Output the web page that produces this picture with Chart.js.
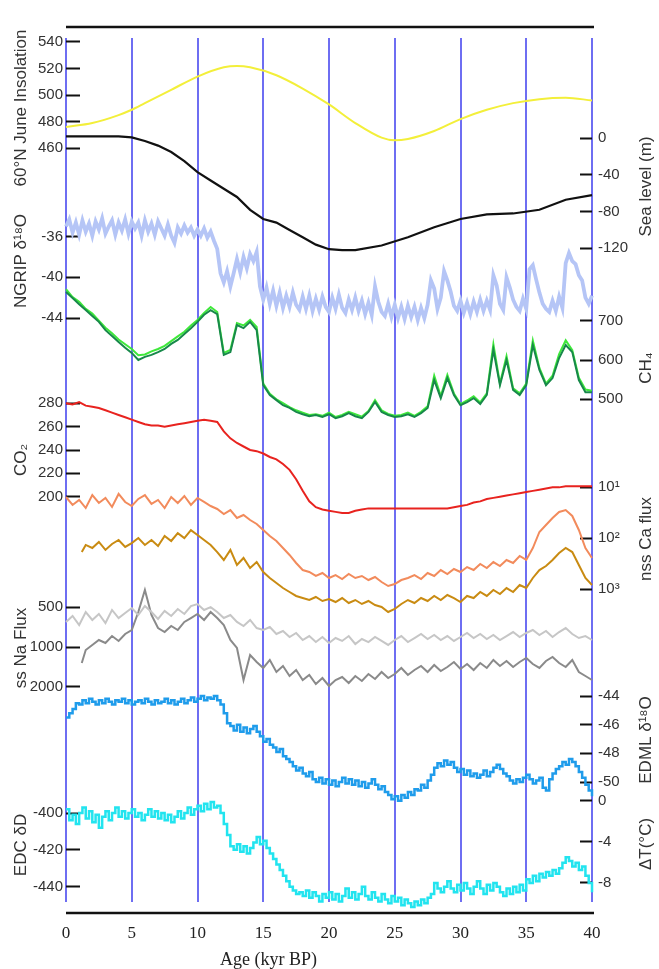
<!DOCTYPE html>
<html>
<head>
<meta charset="utf-8">
<title>Last 40 kyr climate records</title>
<script src="https://cdn.jsdelivr.net/npm/chart.js@4.4.1/dist/chart.umd.min.js"></script>
<style>
  html, body { margin: 0; padding: 0; background: #fff; }
  #wrap { width: 659px; height: 969px; }
</style>
</head>
<body>
<div id="wrap"><canvas id="climate" width="659" height="969"></canvas></div>
<script>
// ---- data (age in kyr BP) ----
const ageTicks = [0, 5, 10, 15, 20, 25, 30, 35, 40];

const ageQ = [0,0.25,0.5,0.75,1,1.25,1.5,1.75,2,2.25,2.5,2.75,3,3.25,3.5,3.75,4,4.25,4.5,4.75,5,5.25,5.5,5.75,6,6.25,6.5,6.75,7,7.25,7.5,7.75,8,8.25,8.5,8.75,9,9.25,9.5,9.75,10,10.25,10.5,10.75,11,11.25,11.5,11.75,12,12.25,12.5,12.75,13,13.25,13.5,13.75,14,14.25,14.5,14.75,15,15.25,15.5,15.75,16,16.25,16.5,16.75,17,17.25,17.5,17.75,18,18.25,18.5,18.75,19,19.25,19.5,19.75,20,20.25,20.5,20.75,21,21.25,21.5,21.75,22,22.25,22.5,22.75,23,23.25,23.5,23.75,24,24.25,24.5,24.75,25,25.25,25.5,25.75,26,26.25,26.5,26.75,27,27.25,27.5,27.75,28,28.25,28.5,28.75,29,29.25,29.5,29.75,30,30.25,30.5,30.75,31,31.25,31.5,31.75,32,32.25,32.5,32.75,33,33.25,33.5,33.75,34,34.25,34.5,34.75,35,35.25,35.5,35.75,36,36.25,36.5,36.75,37,37.25,37.5,37.75,38,38.25,38.5,38.75,39,39.25,39.5,39.75,40];
const ageH = [0,0.5,1,1.5,2,2.5,3,3.5,4,4.5,5,5.5,6,6.5,7,7.5,8,8.5,9,9.5,10,10.5,11,11.5,12,12.5,13,13.5,14,14.5,15,15.5,16,16.5,17,17.5,18,18.5,19,19.5,20,20.5,21,21.5,22,22.5,23,23.5,24,24.5,25,25.5,26,26.5,27,27.5,28,28.5,29,29.5,30,30.5,31,31.5,32,32.5,33,33.5,34,34.5,35,35.5,36,36.5,37,37.5,38,38.5,39,39.5,40];
const ageLate = [1.2,1.5,2,2.5,3,3.5,4,4.5,5,5.5,6,6.5,7,7.5,8,8.5,9,9.5,10,10.5,11,11.5,12,12.5,13,13.5,14,14.5,15,15.5,16,16.5,17,17.5,18,18.5,19,19.5,20,20.5,21,21.5,22,22.5,23,23.5,24,24.5,25,25.5,26,26.5,27,27.5,28,28.5,29,29.5,30,30.5,31,31.5,32,32.5,33,33.5,34,34.5,35,35.5,36,36.5,37,37.5,38,38.5,39,39.5,40];

const insAge = [0,2,4,5,6,8,10,12,13,14,16,18,20,22,24,25,26,28,30,32,34,36,38,40];
const insolation = [476,479,485,489,494,504,514,521,522,521,515,505,493,479,468,466,467,473,482,489,494,497,498,496];

const seaAge = [0,2,4,5,6,7,8,9,10,11,12,13,14,15,16,17,18,19,20,21,22,24,26,28,30,32,34,36,38,40];
const seaLevel = [2,2,2,1,-3,-8,-15,-25,-37,-46,-55,-64,-78,-88,-92,-100,-108,-116,-121,-122,-122,-117,-108,-97,-88,-83,-82,-78,-67,-62];

const ngrip = [-35.0,-34.3,-35.6,-34.6,-35.8,-34.4,-35.5,-34.7,-35.9,-34.5,-35.3,-34.2,-35.7,-35.0,-34.4,-35.8,-34.6,-35.4,-34.3,-35.7,-34.5,-35.2,-34.6,-35.9,-34.4,-35.5,-34.7,-35.8,-34.5,-35.2,-35.9,-34.8,-35.9,-36.6,-35.1,-35.7,-34.9,-35.6,-35.1,-35.9,-35.3,-35.9,-35.2,-36.1,-35.5,-36.4,-37.2,-39.6,-40.5,-39.4,-40.9,-39.6,-38.2,-39.5,-38.0,-39.1,-37.7,-38.4,-37.5,-40.9,-42.2,-41.0,-42.6,-41.3,-42.8,-41.5,-43.0,-41.8,-42.9,-41.5,-42.7,-43.2,-41.9,-43.1,-41.8,-43.3,-42.1,-43.2,-41.9,-42.9,-43.4,-42.0,-43.1,-41.7,-43.0,-43.5,-42.2,-43.2,-42.0,-43.3,-42.3,-43.6,-42.5,-43.7,-40.9,-42.4,-43.4,-43.8,-42.6,-43.9,-42.7,-44.0,-42.9,-44.1,-42.8,-43.9,-42.9,-44.2,-43.0,-44.0,-42.7,-40.3,-41.1,-43.1,-42.0,-39.4,-40.3,-41.4,-42.8,-43.3,-42.3,-43.5,-42.5,-43.6,-42.4,-43.4,-42.2,-43.3,-42.3,-43.2,-39.8,-40.8,-42.6,-43.2,-40.0,-41.0,-42.2,-42.9,-43.3,-42.1,-43.1,-39.2,-38.8,-40.2,-41.5,-42.6,-43.1,-43.4,-42.3,-43.3,-41.9,-43.0,-38.6,-37.6,-38.4,-38.7,-39.8,-40.3,-42.0,-42.6,-41.8];

const ch4Dark = [773,758,742,727,712,697,676,661,646,631,618,600,608,613,620,628,641,651,666,681,697,715,727,717,613,620,689,681,697,676,536,511,498,485,478,468,462,457,460,455,462,452,457,465,457,452,468,493,468,460,455,457,462,455,465,478,549,503,554,511,485,493,503,488,511,626,536,600,524,511,536,638,575,536,554,605,638,620,549,518,518];
const ch4Light = [780,760,748,730,718,700,682,668,652,640,628,612,614,622,628,636,648,660,672,688,702,720,735,722,618,626,694,688,702,684,540,514,500,490,480,472,466,460,462,458,466,455,460,468,462,456,470,498,472,463,458,460,466,458,468,482,560,508,562,515,488,497,508,492,515,640,540,610,528,515,540,650,580,540,560,615,650,625,555,525,522];

const co2 = [280,279,281,278,277,276,274,272,270,268,266,264,262,261,261,260,261,262,263,264,265,266,265,264,256,250,246,243,240,239,237,234,232,228,223,215,205,196,191,189,188,187,186,186,188,189,190,190,190,190,190,190,190,190,190,190,190,190,190,191,192,193,195,196,198,199,200,201,202,203,204,205,206,207,208,208,209,209,209,209,209];

const caOrange = [15.5,22.2,17.7,25.5,14.2,20.3,16.2,24.3,13.5,19.4,23.3,16.9,14.2,21.2,17.7,25.5,15.5,20.3,14.8,22.2,16.2,19.4,23.3,26.6,33.4,27.9,40.0,34.9,43.8,52.4,68.7,90.2,113,155,212,305,419,458,548,479,600,525,628,501,600,548,658,574,719,861,787,658,600,525,628,479,548,419,501,400,458,366,419,319,382,292,349,266,305,222,266,155,75.2,54.8,40.0,30.5,27.9,36.5,68.7,155,243];
const caOchre = [186,135,155,118,169,129,108,148,124,99,135,108,142,90,113,79,99,69,86,108,135,186,266,169,334,243,382,292,458,600,752,944,1130,1352,1483,1622,1416,1696,1549,1774,1483,1858,1622,1941,1696,2032,2223,2786,2432,1941,1622,1858,1483,1696,1352,1622,1294,1483,1774,1352,1483,1130,1352,1033,1237,944,1130,824,944,600,419,349,266,194,155,186,334,600,824];

const naLight = [646,582,681,543,624,562,658,524,603,552,506,572,489,543,613,533,582,515,562,489,472,524,499,543,603,572,646,693,624,718,743,705,797,756,840,783,885,826,917,840,932,855,900,826,949,870,917,840,900,965,885,826,917,855,797,870,811,885,826,900,840,783,855,797,870,811,885,826,770,840,783,743,811,756,840,770,718,797,855,826,885];
const naDark = [1322,1054,965,885,932,826,900,797,743,543,370,572,718,770,693,743,646,603,562,624,543,603,681,885,1017,1779,1149,1299,1442,1254,1547,1393,1659,1494,1779,1631,1908,1718,1976,1779,1689,1875,1659,1811,1602,1748,1547,1718,1602,1442,1631,1494,1393,1547,1369,1520,1418,1299,1469,1346,1494,1322,1442,1254,1393,1277,1418,1299,1211,1346,1442,1277,1190,1322,1418,1254,1547,1659,1779];

const edml = [-45.5,-45.2,-44.9,-44.5,-44.6,-44.3,-44.5,-44.2,-44.4,-44.6,-44.3,-44.5,-44.2,-44.4,-44.6,-44.3,-44.4,-44.2,-44.5,-44.3,-44.6,-44.4,-44.3,-44.5,-44.2,-44.4,-44.6,-44.3,-44.5,-44.4,-44.2,-44.5,-44.3,-44.6,-44.4,-44.2,-44.5,-44.3,-44.1,-44.4,-44.2,-44.0,-44.3,-44.1,-44.2,-44.0,-44.3,-44.6,-45.2,-45.9,-46.1,-46.4,-46.0,-46.5,-46.2,-46.6,-46.3,-46.1,-46.5,-46.8,-47.2,-47.0,-47.4,-47.6,-47.9,-47.7,-48.2,-48.4,-48.6,-48.9,-49.2,-49.0,-49.4,-49.6,-49.3,-49.8,-50.0,-49.7,-50.1,-49.8,-50.2,-49.9,-50.3,-50.0,-49.7,-50.1,-49.8,-50.2,-49.9,-50.3,-50.0,-50.4,-50.1,-49.8,-50.2,-50.5,-50.3,-50.7,-50.9,-51.2,-51.0,-51.3,-50.9,-51.1,-50.7,-50.9,-50.5,-50.6,-50.2,-50.4,-49.9,-49.5,-49.0,-48.7,-48.9,-48.5,-48.8,-48.6,-49.0,-49.3,-49.1,-49.5,-49.2,-49.6,-49.4,-49.7,-49.5,-49.2,-49.6,-49.3,-49.0,-48.8,-49.1,-49.4,-49.6,-49.9,-50.1,-49.8,-50.0,-49.7,-49.5,-49.8,-50.1,-49.9,-49.7,-50.4,-50.6,-49.8,-49.4,-49.1,-48.9,-48.6,-48.8,-48.4,-48.6,-48.9,-49.3,-49.7,-50.2,-50.6,-51.0];

const edcDD = [-398,-404,-401,-406,-400,-397,-403,-399,-405,-401,-408,-402,-399,-404,-400,-397,-402,-399,-403,-400,-398,-402,-400,-404,-401,-398,-402,-399,-403,-400,-404,-401,-405,-402,-399,-403,-400,-397,-401,-398,-396,-399,-395,-398,-394,-397,-396,-400,-406,-412,-418,-420,-417,-421,-418,-422,-419,-416,-413,-417,-415,-419,-422,-425,-428,-431,-434,-437,-440,-442,-444,-443,-445,-442,-446,-443,-445,-448,-444,-446,-443,-447,-444,-448,-445,-441,-446,-443,-447,-444,-440,-445,-447,-443,-446,-448,-444,-447,-449,-445,-448,-446,-450,-447,-449,-451,-448,-450,-447,-449,-446,-444,-438,-441,-443,-440,-437,-441,-443,-439,-442,-438,-441,-444,-440,-437,-441,-444,-439,-442,-438,-440,-443,-445,-441,-444,-440,-443,-439,-442,-436,-438,-434,-437,-433,-435,-432,-434,-431,-433,-430,-427,-424,-426,-429,-427,-431,-429,-434,-438,-443];

// tick labels
const insTicks = [460, 480, 500, 520, 540];
const ngripTicks = [-44, -40, -36];
const co2Ticks = [200, 220, 240, 260, 280];
const naTicks = [500, 1000, 2000];
const edcTicks = [-440, -420, -400];
const seaTicks = [-120, -80, -40, 0];
const ch4Ticks = [500, 600, 700];
const caTicks = [10, 100, 1000];
const caTickLabels = ['10¹', '10²', '10³'];
const edmlTicks = [-50, -48, -46, -44];
const dtTicks = [-8, -4, 0];

// ---- layout: each y axis owns a vertical band; cal = [value, px, value, px] ----
const CHART_TOP = 38, CHART_BOTTOM = 902;
const axisLayout = [
  {id: 'yIns',   side: 'left',  top: 38,  bottom: 178, cal: [540, 42, 460, 148.3], ticks: insTicks,   title: '60°N June Insolation'},
  {id: 'yNgrip', side: 'left',  top: 200, bottom: 322, cal: [-36, 236.7, -44, 318], ticks: ngripTicks, title: 'NGRIP δ¹⁸O'},
  {id: 'yCo2',   side: 'left',  top: 400, bottom: 520, cal: [280, 403.3, 200, 496.7], ticks: co2Ticks, title: 'CO₂'},
  {id: 'yNa',    side: 'left',  top: 600, bottom: 696, cal: [500, 607.3, 2000, 686.7], ticks: naTicks, title: 'ss Na Flux', log: true},
  {id: 'yEdc',   side: 'left',  top: 800, bottom: 890, cal: [-400, 813, -440, 886.7], ticks: edcTicks, title: 'EDC δD'},
  {id: 'ySea',   side: 'right', top: 124, bottom: 249, cal: [0, 138.3, -120, 248.3], ticks: seaTicks, title: 'Sea level (m)'},
  {id: 'yCh4',   side: 'right', top: 318, bottom: 418, cal: [700, 320.7, 500, 399.3], ticks: ch4Ticks, title: 'CH₄'},
  {id: 'yCa',    side: 'right', top: 484, bottom: 594, cal: [10, 487.3, 1000, 589.3], ticks: caTicks, labels: caTickLabels, title: 'nss Ca flux', log: true},
  {id: 'yEdml',  side: 'right', top: 692, bottom: 788, cal: [-44, 696, -50, 782], ticks: edmlTicks, title: 'EDML δ¹⁸O'},
  {id: 'yDt',    side: 'right', top: 798, bottom: 890, cal: [0, 800.7, -8, 882.7], ticks: dtTicks, title: 'ΔT(°C)'}
];

function rangeFor(a) {
  const f = a.log ? Math.log10 : v => v;
  const g = a.log ? v => Math.pow(10, v) : v => v;
  const [v1, p1, v2, p2] = a.cal;
  const k = (p2 - p1) / (f(v2) - f(v1));
  const t = f(v1) + (a.top - p1) / k;
  const b = f(v1) + (a.bottom - p1) / k;
  return {min: g(Math.min(t, b)), max: g(Math.max(t, b))};
}

const tickFont = {family: '"Liberation Sans", Arial, sans-serif', size: 15};

const scales = {
  x: {
    type: 'linear', position: 'bottom', min: 0, max: 40,
    afterBuildTicks: s => { s.ticks = ageTicks.map(v => ({value: v})); },
    afterFit: s => { s.height = 67; },
    grid: {color: '#6e6ef2', lineWidth: 2, drawTicks: false},
    border: {display: false},
    ticks: {autoSkip: false, maxRotation: 0, padding: 21, color: '#222', font: {family: '"Liberation Serif", "Times New Roman", serif', size: 17}}
  }
};

['left', 'right'].forEach(side => {
  const list = axisLayout.filter(a => a.side === side).sort((p, q) => p.top - q.top);
  const segs = [];
  let cursor = CHART_TOP;
  list.forEach(a => {
    if (a.top > cursor) segs.push({h: a.top - cursor});
    segs.push({axis: a, h: a.bottom - a.top});
    cursor = a.bottom;
  });
  if (cursor < CHART_BOTTOM) segs.push({h: CHART_BOTTOM - cursor});
  segs.forEach((s, i) => {
    const base = {position: side, stack: side, stackWeight: s.h, weight: side === 'left' ? segs.length - i : i + 1};
    if (!s.axis) {
      scales[side + 'Gap' + i] = Object.assign({type: 'linear', display: false}, base);
      return;
    }
    const a = s.axis;
    const r = rangeFor(a);
    scales[a.id] = Object.assign({
      type: a.log ? 'logarithmic' : 'linear',
      min: r.min, max: r.max, reverse: !!a.log, clip: false,
      afterBuildTicks: sc => { sc.ticks = a.ticks.map(v => ({value: v})); },
      afterFit: sc => { sc.width = 64; },
      grid: {drawOnChartArea: false, drawTicks: true, tickLength: side === 'left' ? -14 : -12, tickColor: '#111', tickWidth: 2},
      border: {display: false},
      ticks: {
        autoSkip: false, padding: side === 'left' ? 17 : 18, color: '#333', font: tickFont,
        callback: v => a.labels ? a.labels[a.ticks.indexOf(v)] : String(v)
      }
    }, base);
  });
});

const pts = (xs, ys) => xs.map((x, i) => ({x, y: ys[i]}));
const line = (label, xs, ys, axis, color, width, extra) => Object.assign({
  label, data: pts(xs, ys), yAxisID: axis, xAxisID: 'x',
  borderColor: color, borderWidth: width, pointRadius: 0, fill: false, tension: 0, clip: false
}, extra || {});

const datasets = [
  line('Insolation', insAge, insolation, 'yIns', '#f3ef3a', 2, {cubicInterpolationMode: 'monotone'}),
  line('Sea level', seaAge, seaLevel, 'ySea', '#111111', 2.2),
  line('CH4 (dark)', ageH, ch4Dark, 'yCh4', '#17894a', 2),
  line('CH4 (bright)', ageH, ch4Light, 'yCh4', '#3ee83a', 2),
  line('NGRIP d18O', ageQ, ngrip, 'yNgrip', '#b5c5f6', 3.8),
  line('CO2', ageH, co2, 'yCo2', '#e8231f', 2),
  line('nss Ca (orange)', ageH, caOrange, 'yCa', '#f28b5c', 2),
  line('nss Ca (ochre)', ageLate, caOchre, 'yCa', '#c98b12', 2),
  line('ss Na (light)', ageH, naLight, 'yNa', '#c6c6c6', 2),
  line('ss Na (dark)', ageLate, naDark, 'yNa', '#8a8a8a', 2),
  line('EDML d18O', ageQ, edml, 'yEdml', '#1f9ceb', 2.5, {stepped: true}),
  line('EDC dD', ageQ, edcDD, 'yEdc', '#22e4ef', 2.5, {stepped: true})
];

const xTitle = 'Age (kyr BP)';

const decor = {
  id: 'decor',
  afterDraw(chart) {
    const {ctx, chartArea: area, scales: sc} = chart;
    const x0 = sc.x.getPixelForValue(0), x1 = sc.x.getPixelForValue(40);
    ctx.save();
    ctx.strokeStyle = '#111';
    ctx.lineWidth = 2.5;
    [area.top - 11, area.bottom + 11].forEach(y => {
      ctx.beginPath(); ctx.moveTo(x0, y); ctx.lineTo(x1 + 2, y); ctx.stroke();
    });
    ctx.fillStyle = '#333';
    ctx.textAlign = 'center';
    ctx.textBaseline = 'middle';
    ctx.font = '17px "Liberation Sans", Arial, sans-serif';
    axisLayout.forEach(a => {
      const s = sc[a.id];
      const cx = a.side === 'left' ? s.left + 19 : s.right - 10;
      const cy = (s.top + s.bottom) / 2;
      ctx.save(); ctx.translate(cx, cy); ctx.rotate(-Math.PI / 2);
      ctx.fillText(a.title, 0, 0);
      ctx.restore();
    });
    ctx.fillStyle = '#222';
    ctx.font = '18px "Liberation Serif", "Times New Roman", serif';
    ctx.fillText(xTitle, sc.x.getPixelForValue(15.4), area.bottom + 58);
    ctx.restore();
  }
};

new Chart(document.getElementById('climate').getContext('2d'), {
  type: 'line',
  data: {datasets},
  options: {
    responsive: false,
    animation: false,
    devicePixelRatio: 1,
    layout: {padding: {top: CHART_TOP, left: 2, right: 3, bottom: 0}},
    plugins: {legend: {display: false}, tooltip: {enabled: false}},
    scales
  },
  plugins: [decor]
});
</script>
</body>
</html>
